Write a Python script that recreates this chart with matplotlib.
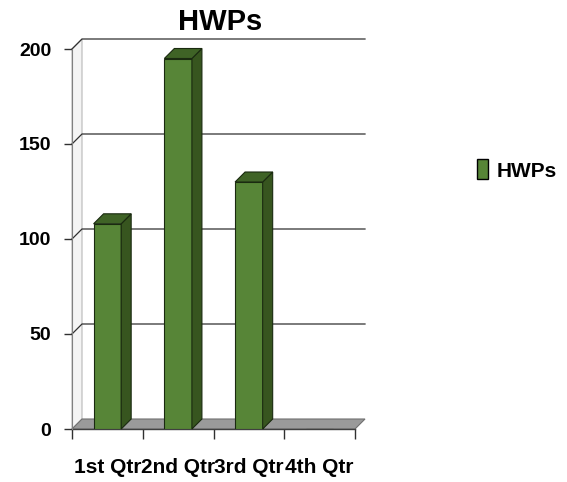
import matplotlib
matplotlib.use("Agg")
from matplotlib import pyplot as plt
from matplotlib.patches import Polygon, Patch

# data
categories = ["1st Qtr", "2nd Qtr", "3rd Qtr", "4th Qtr"]
hwps = [108, 195, 130, 0]
y_ticks = [0, 50, 100, 150, 200]
series_name = "HWPs"

plt.rcParams["font.family"] = ["Liberation Sans", "DejaVu Sans"]
plt.rcParams["font.weight"] = "bold"

front_col = "#578537"
side_col = "#37551f"
top_col = "#3f6326"
floor_col = "#9a9a9a"

fig = plt.figure(figsize=(5.67, 4.82), dpi=100)
W, H = 567, 482
ax = fig.add_axes([72 / W, 1 - 429 / H, (355 - 72) / W, (429 - 49) / H])
ax.set_xlim(0, len(categories))
ax.set_ylim(0, 200)

# depth of the pseudo 3d box, in data units
dx = 10 / 70.75
dy = 10 / 1.9
n = len(categories)

# left wall
ax.add_patch(Polygon([(0, 0), (dx, dy), (dx, 200 + dy), (0, 200)], closed=True,
                     facecolor="#f4f4f4", edgecolor="#b8b8b8", lw=0.8, clip_on=False, zorder=0.5))
# floor
ax.add_patch(Polygon([(0, 0), (n, 0), (n + dx, dy), (dx, dy)], closed=True,
                     facecolor=floor_col, edgecolor="#707070", lw=0.8, clip_on=False, zorder=1))

# gridlines on the walls
for v in y_ticks[1:]:
    ax.plot([0, dx, n + dx], [v, v + dy, v + dy], color="#303030", lw=0.9,
            clip_on=False, zorder=0.8)

# bars
xs = [i + 0.5 for i in range(n)]
bw = 0.39
ax.bar(xs, hwps, width=bw, color=front_col, edgecolor="#1a2a10", lw=0.8, zorder=3)
for x, v in zip(xs, hwps):
    if v <= 0:
        continue
    r = x + bw / 2
    l = x - bw / 2
    ax.add_patch(Polygon([(r, 0), (r + dx, dy), (r + dx, v + dy), (r, v)], closed=True,
                         facecolor=side_col, edgecolor="#1a2a10", lw=0.8, zorder=3, clip_on=False))
    ax.add_patch(Polygon([(l, v), (r, v), (r + dx, v + dy), (l + dx, v + dy)], closed=True,
                         facecolor=top_col, edgecolor="#1a2a10", lw=0.8, zorder=3, clip_on=False))

# axes
for s in ["top", "right", "bottom"]:
    ax.spines[s].set_visible(False)
ax.spines["left"].set_color("#808080")
ax.plot([0, n], [0, 0], color="#404040", lw=1, clip_on=False, zorder=2)

ax.set_yticks(y_ticks)
ax.tick_params(axis="y", direction="out", length=6, width=1, color="#303030",
               labelsize=14, pad=9)
ax.set_xticks(range(n + 1))
ax.set_xticklabels([])
ax.tick_params(axis="x", which="major", direction="out", length=7, width=1, color="#303030")
ax.set_xticks(xs, minor=True)
ax.set_xticklabels(categories, minor=True)
ax.tick_params(axis="x", which="minor", length=0, labelsize=15, pad=21)
for t in ax.get_yticklabels() + ax.get_xticklabels(minor=True):
    t.set_fontweight("bold")

fig.text(220 / W, 1 - 22 / H, series_name, ha="center", va="center",
         fontsize=21, fontweight="bold")

fig.legend(handles=[Patch(facecolor=front_col, edgecolor="black", lw=1, label=series_name)],
           loc="center left", bbox_to_anchor=(458 / W, 1 - 170 / H), frameon=False,
           handlelength=0.55, handleheight=1.1, handletextpad=0.4,
           prop={"size": 15, "weight": "bold"})

fig.savefig("out.png", dpi=100)
